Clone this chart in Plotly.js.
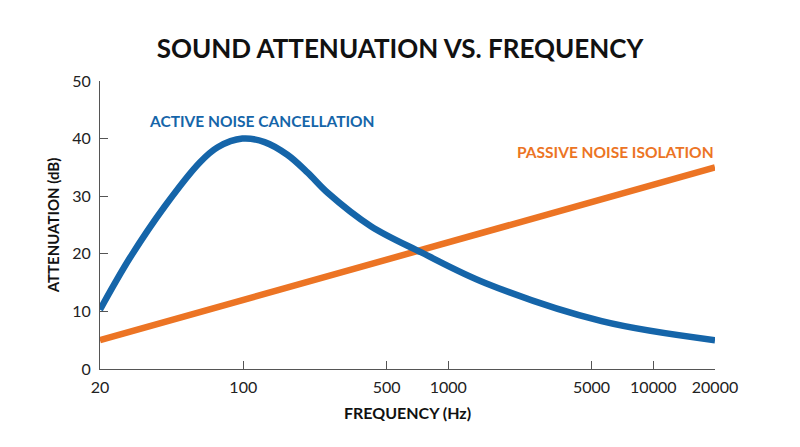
<!DOCTYPE html>
<html>
<head>
<meta charset="utf-8">
<script src="https://cdn.plot.ly/plotly-3.0.1.min.js"></script>
<style>
  html, body { margin: 0; padding: 0; background: #fff; }
  #chart { width: 800px; height: 447px; }
</style>
</head>
<body>
<div id="chart"></div>
<script>
// Data
const activeFreq = [20, 28, 41.5, 61.5, 75, 99, 127, 164, 206, 258, 419, 743, 1524, 5600, 20000];
const activeAtt  = [10.3, 19.3, 28.3, 35.9, 38.5, 40.0, 39.4, 37.2, 34.1, 30.6, 24.8, 20.2, 14.9, 8.3, 5.0];

const passiveFreq = [20, 20000];
const passiveAtt  = [5, 35];

const xTickVals = [20, 100, 500, 1000, 5000, 10000, 20000];
const xTickText = ["20", "100", "500", "1000", "5000", "10000", "20000"];
const yTickVals = [0, 10, 20, 30, 40, 50];

const blue = "#1565a9";
const orange = "#ec7424";
const font = "Lato, 'Open Sans', sans-serif";

const traces = [
  {
    x: passiveFreq, y: passiveAtt, type: "scatter", mode: "lines",
    name: "Passive Noise Isolation",
    line: { color: orange, width: 6.5 },
    hoverinfo: "skip"
  },
  {
    x: activeFreq, y: activeAtt, type: "scatter", mode: "lines",
    name: "Active Noise Cancellation",
    line: { color: blue, width: 6.5, shape: "spline", smoothing: 1 },
    hoverinfo: "skip"
  }
];

const layout = {
  width: 800, height: 447,
  paper_bgcolor: "#ffffff", plot_bgcolor: "#ffffff",
  margin: { l: 100, r: 85, t: 81, b: 78 },
  showlegend: false,
  font: { family: font, color: "#222" },
  title: {
    text: "<b>SOUND ATTENUATION VS. FREQUENCY</b>",
    font: { family: font, size: 26, color: "#111" },
    x: 0.5, xanchor: "center", xref: "container",
    y: 0.89, yanchor: "middle", yref: "container"
  },
  xaxis: {
    type: "log",
    range: [Math.log10(20), Math.log10(20000)],
    tickvals: xTickVals, ticktext: xTickText,
    ticks: "inside", ticklen: 8, tickwidth: 1, tickcolor: "#555",
    ticklabelstandoff: 4,
    showline: true, linecolor: "#555", linewidth: 1,
    showgrid: false, zeroline: false,
    tickfont: { family: font, size: 16, color: "#222" },
    title: { text: "<b>FREQUENCY (Hz)</b>", font: { family: font, size: 16, color: "#111" }, standoff: 12 }
  },
  yaxis: {
    range: [0, 50],
    tickvals: yTickVals,
    ticks: "inside", ticklen: 8, tickwidth: 1, tickcolor: "#555",
    ticklabelstandoff: 5,
    showline: true, linecolor: "#555", linewidth: 1,
    showgrid: false, zeroline: false,
    tickfont: { family: font, size: 16, color: "#222" },
    title: { text: "<b>ATTENUATION (dB)</b>", font: { family: font, size: 15, color: "#111" }, standoff: 8 }
  },
  annotations: [
    {
      text: "<b>ACTIVE NOISE CANCELLATION</b>",
      xref: "paper", x: 0.0764, xanchor: "left",
      yref: "y", y: 43, yanchor: "middle",
      showarrow: false,
      font: { family: font, size: 15.5, color: blue }
    },
    {
      text: "<b>PASSIVE NOISE ISOLATION</b>",
      xref: "paper", x: 1.0016, xanchor: "right",
      yref: "y", y: 37.6, yanchor: "middle",
      showarrow: false,
      font: { family: font, size: 15.5, color: orange }
    }
  ]
};

Plotly.newPlot("chart", traces, layout, { staticPlot: true, displayModeBar: false });
</script>
</body>
</html>
